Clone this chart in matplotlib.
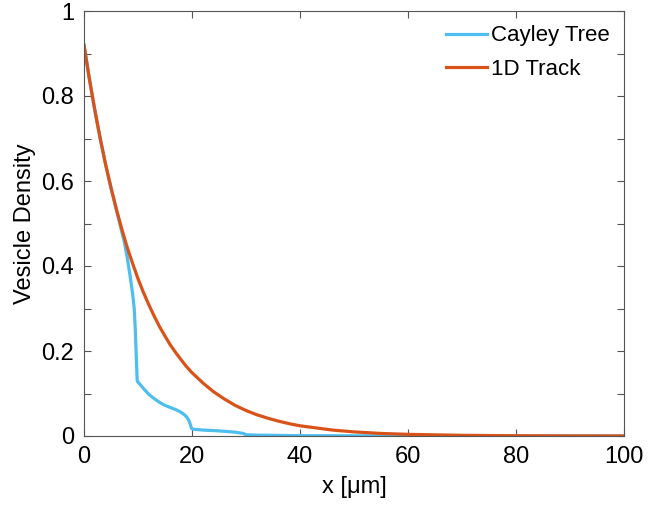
import numpy as np
import matplotlib.pyplot as plt

plt.rcParams['font.family'] = ['Liberation Sans', 'DejaVu Sans']

# values
x_track = [0, 1, 2, 3, 4, 5, 6, 7, 8, 9, 10, 11, 12, 13, 14, 15, 16, 17, 18, 19, 20,
           22, 24, 26, 28, 30, 32, 34, 36, 38, 40, 43, 46, 50, 55, 60, 70, 80, 90, 100]
y_track = [0.92, 0.84, 0.767, 0.70, 0.639, 0.584, 0.533, 0.487, 0.444, 0.406, 0.37,
           0.338, 0.309, 0.282, 0.257, 0.235, 0.214, 0.196, 0.179, 0.163, 0.149,
           0.125, 0.104, 0.087, 0.072, 0.06, 0.05, 0.042, 0.035, 0.029, 0.024,
           0.019, 0.014, 0.0097, 0.006, 0.0039, 0.0016, 0.0006, 0.0002, 0.0001]

x_tree = [0, 1, 2, 3, 4, 5, 6, 7, 7.5, 8, 8.5, 9, 9.3, 9.5, 9.7, 9.85, 10, 11, 12, 13,
          14, 15, 16, 17, 17.8, 18.5, 19, 19.4, 19.7, 19.9, 20.2, 22, 25, 28, 29.5, 30,
          32, 40, 60, 100]
y_tree = [0.92, 0.84, 0.767, 0.70, 0.639, 0.584, 0.533, 0.48, 0.455, 0.42, 0.38, 0.335,
          0.3, 0.25, 0.18, 0.13, 0.127, 0.112, 0.098, 0.088, 0.079, 0.072, 0.067, 0.062,
          0.057, 0.051, 0.045, 0.037, 0.027, 0.018, 0.016, 0.014, 0.012, 0.009, 0.006,
          0.003, 0.002, 0.0008, 0.0002, 0.0]

fig = plt.figure(figsize=(6.5, 5.05), dpi=100)
ax = fig.add_axes([84/650, 1-436/505, 540/650, 425/505])

ax.plot(x_tree, y_tree, color='#4DBEEE', lw=2.3, label='Cayley Tree')
ax.plot(x_track, y_track, color='#D95319', lw=2.3, label='1D Track')

ax.set_xlim(0, 100)
ax.set_ylim(0, 1)
ax.set_xticks([0, 20, 40, 60, 80, 100])
ax.set_yticks(np.arange(0, 1.01, 0.1))
ax.set_yticklabels(['0', '', '0.2', '', '0.4', '', '0.6', '', '0.8', '', '1'])
ax.tick_params(direction='in', length=5, width=0.8, top=True, right=True,
               labelsize=17, colors='#555555', labelcolor='black', pad=7)
for s in ax.spines.values():
    s.set_color('#555555')
    s.set_linewidth(0.8)

ax.set_xlabel('x [\u03bcm]', fontsize=17, labelpad=6)
ax.set_ylabel('Vesicle Density', fontsize=17, labelpad=4)

ax.legend(loc='upper right', frameon=False, fontsize=16, handlelength=1.85,
          handletextpad=0.15, borderaxespad=0.25, labelspacing=0.55)

fig.savefig('out.png', dpi=100)
